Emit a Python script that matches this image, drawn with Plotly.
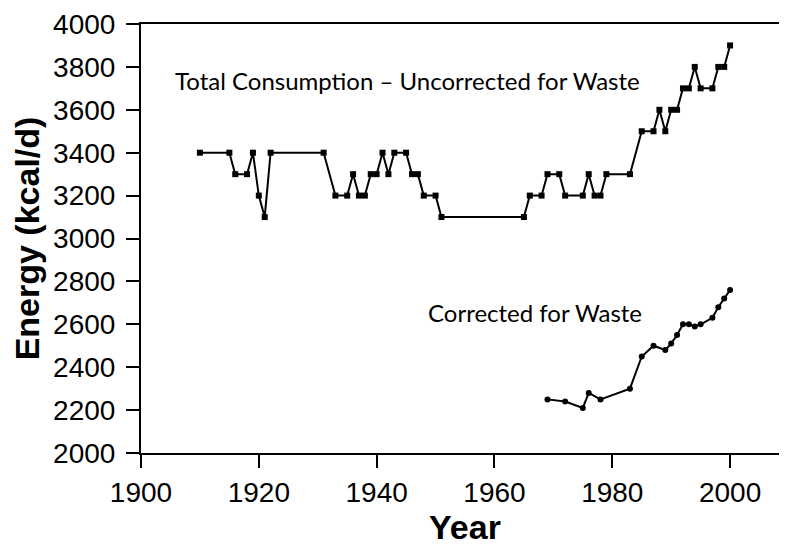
import plotly.graph_objects as go

# Total consumption (uncorrected for waste)
years_total = [1910, 1915, 1916, 1918, 1919, 1920, 1921, 1922, 1931, 1933, 1935, 1936, 1937,
               1938, 1939, 1940, 1941, 1942, 1943, 1945, 1946, 1947, 1948, 1950, 1951, 1965,
               1966, 1968, 1969, 1971, 1972, 1975, 1976, 1977, 1978, 1979, 1983, 1985, 1987,
               1988, 1989, 1990, 1991, 1992, 1993, 1994, 1995, 1997, 1998, 1999, 2000]
energy_total = [3400, 3400, 3300, 3300, 3400, 3200, 3100, 3400, 3400, 3200, 3200, 3300, 3200,
                3200, 3300, 3300, 3400, 3300, 3400, 3400, 3300, 3300, 3200, 3200, 3100, 3100,
                3200, 3200, 3300, 3300, 3200, 3200, 3300, 3200, 3200, 3300, 3300, 3500, 3500,
                3600, 3500, 3600, 3600, 3700, 3700, 3800, 3700, 3700, 3800, 3800, 3900]

# Corrected for waste
years_corr = [1969, 1972, 1975, 1976, 1978, 1983, 1985, 1987, 1989, 1990, 1991, 1992, 1993,
              1994, 1995, 1997, 1998, 1999, 2000]
energy_corr = [2250, 2240, 2210, 2280, 2250, 2300, 2450, 2500, 2480, 2510, 2550, 2600, 2600,
               2590, 2600, 2630, 2680, 2720, 2760]

x_ticks = [1900, 1920, 1940, 1960, 1980, 2000]
y_ticks = [2000, 2200, 2400, 2600, 2800, 3000, 3200, 3400, 3600, 3800, 4000]

fig = go.Figure()
fig.add_trace(go.Scatter(
    x=years_total, y=energy_total, mode="lines+markers",
    line=dict(color="black", width=2),
    marker=dict(symbol="square", size=6, color="black"),
    showlegend=False, cliponaxis=False))
fig.add_trace(go.Scatter(
    x=years_corr, y=energy_corr, mode="lines+markers",
    line=dict(color="black", width=2),
    marker=dict(symbol="circle", size=6, color="black"),
    showlegend=False, cliponaxis=False))

ann_font = dict(family="Lato, Carlito, sans-serif", size=24, color="black")
fig.add_annotation(x=1905.4, y=3735, xref="x", yref="y", text="Total Consumption \u2013 Uncorrected for Waste",
                   showarrow=False, xanchor="left", yanchor="middle", font=ann_font)
fig.add_annotation(x=1948.4, y=2655, xref="x", yref="y", text="Corrected for Waste",
                   showarrow=False, xanchor="left", yanchor="middle", font=ann_font)

tick_font = dict(family="Liberation Sans, Arial, sans-serif", size=28, color="black")
title_font = dict(family="Liberation Sans, Arial, sans-serif", size=34, color="black")
axis_common = dict(showline=True, linecolor="black", linewidth=2, mirror=True,
                   ticks="outside", ticklen=13, tickwidth=2, tickcolor="black",
                   showgrid=False, zeroline=False, automargin=False,
                   ticklabeloverflow="allow", tickfont=tick_font)

fig.update_xaxes(range=[1900, 2010], tickvals=x_ticks,
                 title=dict(text="<b>Year</b>", font=title_font, standoff=0),
                 **axis_common)
fig.update_yaxes(range=[2000, 4000], tickvals=y_ticks, ticklabelstandoff=5,
                 title=dict(text="<b>Energy (kcal/d)</b>", font=title_font, standoff=11),
                 **axis_common)

fig.update_layout(width=787, height=546, plot_bgcolor="white", paper_bgcolor="white",
                  margin=dict(l=133, r=6, t=16, b=101))

fig.write_html("out.html")
